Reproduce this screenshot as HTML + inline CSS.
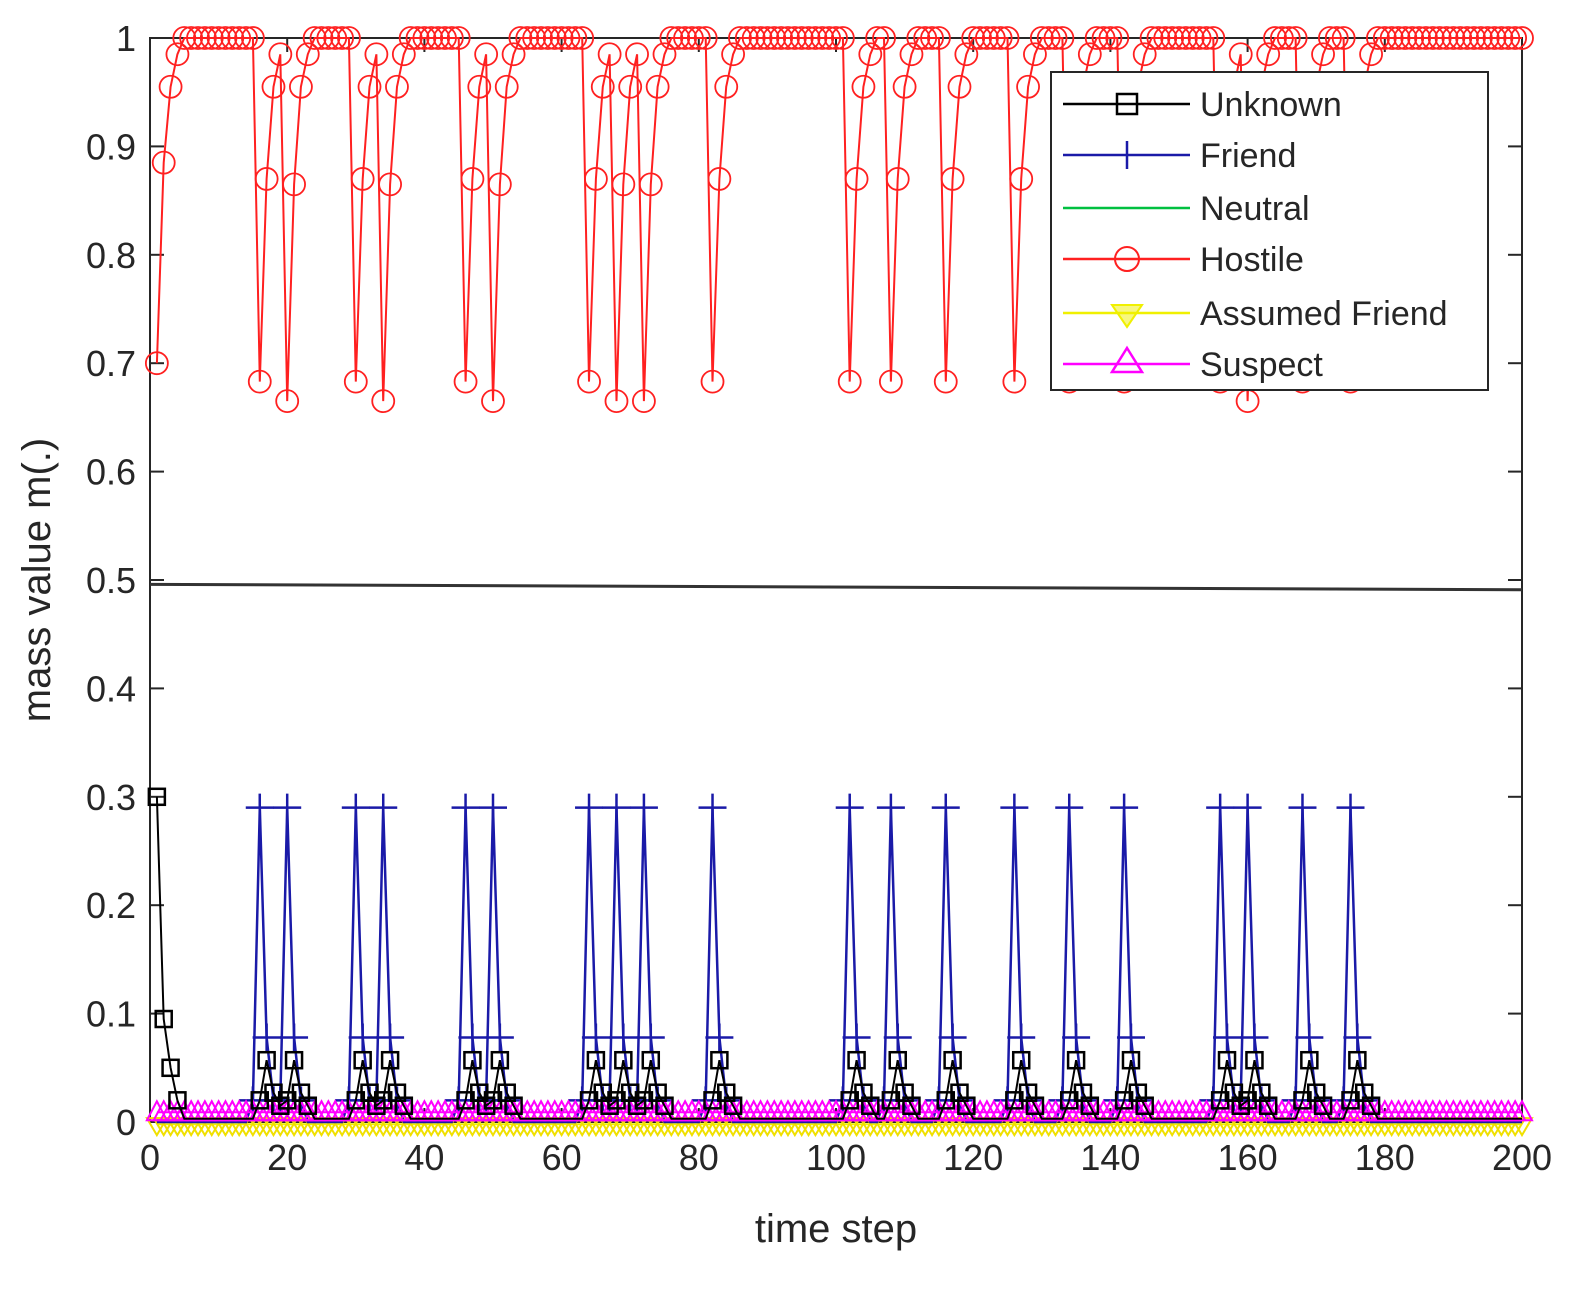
<!DOCTYPE html>
<html><head><meta charset="utf-8"><style>
html,body{margin:0;padding:0;background:#fff;}
svg text{font-family:"Liberation Sans",Arial,sans-serif;fill:#262626;}
</style></head><body>
<svg id="s" width="1586" height="1288" xmlns="http://www.w3.org/2000/svg"></svg>
<script>
const s=document.getElementById('s');
const X0=150,X1=1522,Y0=1122,Y1=38;
const xp=t=>X0+t*(X1-X0)/200, yp=v=>Y0-v*(Y0-Y1);
let h='';
h+=`<rect x="${X0}" y="${Y1}" width="${X1-X0}" height="${Y0-Y1}" fill="#fff" stroke="#262626" stroke-width="2"/>`;
for(let i=0;i<=10;i++){const y=yp(i/10);h+=`<line x1="${X0}" y1="${y}" x2="${X0+14}" y2="${y}" stroke="#262626" stroke-width="2"/><line x1="${X1}" y1="${y}" x2="${X1-14}" y2="${y}" stroke="#262626" stroke-width="2"/>`;
h+=`<text x="${X0-14}" y="${y+13}" font-size="36">${''}</text><text x="${X0-14}" y="${y+13}" font-size="36" text-anchor="end">${i==0?'0':i==10?'1':(i/10).toFixed(1)}</text>`;}
for(let i=0;i<=10;i++){const x=xp(i*20);h+=`<line x1="${x}" y1="${Y0}" x2="${x}" y2="${Y0-14}" stroke="#262626" stroke-width="2"/><line x1="${x}" y1="${Y1}" x2="${x}" y2="${Y1+14}" stroke="#262626" stroke-width="2"/>`;
h+=`<text x="${x}" y="${Y0+48}" font-size="36" text-anchor="middle">${i*20}</text>`;}
h+=`<text x="836" y="1242" font-size="40" text-anchor="middle">time step</text>`;
h+=`<text transform="translate(50,580) rotate(-90)" font-size="40" text-anchor="middle">mass value m(.)</text>`;
const ev=[16,20,30,34,46,50,64,68,72,82,102,108,116,126,134,142,156,160,168,175];
const N=200;let H=[],F=[],U=[],S=[],A=[],Nn=[];
for(let t=1;t<=N;t++){H[t]=1;F[t]=0;U[t]=0.003;S[t]=0.009;A[t]=-0.002;Nn[t]=0.002;}
H[1]=0.7;H[2]=0.885;H[3]=0.955;H[4]=0.985;U[1]=0.3;U[2]=0.095;U[3]=0.05;U[4]=0.02;
let prev=-99;
for(const e of ev){const sec=e-prev<=5;H[e]=sec?0.665:0.683;H[e+1]=sec?0.865:0.87;H[e+2]=0.955;H[e+3]=0.985;
F[e]=0.29;F[e+1]=0.078;F[e+2]=0.02;F[e-1]=Math.max(F[e-1],0.02);
U[e]=0.02;U[e+1]=0.057;U[e+2]=0.027;U[e+3]=0.015;prev=e;}
function line(arr,col,w){let p=[];for(let t=1;t<=N;t++)p.push(xp(t).toFixed(1)+','+yp(arr[t]).toFixed(1));return `<polyline points="${p.join(' ')}" fill="none" stroke="${col}" stroke-width="${w}"/>`;}
function marks(arr,col,type,only){let o='';for(let t=1;t<=N;t++){if(only&&!only(t))continue;const x=xp(t),y=yp(arr[t]);
if(type=='o')o+=`<circle cx="${x}" cy="${y}" r="11" fill="none" stroke="${col}" stroke-width="1.8"/>`;
else if(type=='s')o+=`<rect x="${x-8}" y="${y-8}" width="16" height="16" fill="none" stroke="${col}" stroke-width="2.5"/>`;
else if(type=='+')o+=`<path d="M${x-14} ${y}H${x+14}M${x} ${y-14}V${y+14}" stroke="${col}" stroke-width="2.5"/>`;
else if(type=='^')o+=`<path d="M${x} ${y-11}L${x+10} ${y+8}H${x-10}Z" fill="none" stroke="${col}" stroke-width="2"/>`;
else if(type=='v')o+=`<path d="M${x} ${y+11}L${x+10} ${y-6}H${x-10}Z" fill="none" stroke="${col}" stroke-width="2"/>`;}return o;}
h+=`<line x1="${X0}" y1="${yp(0.496)}" x2="${X1}" y2="${yp(0.491)}" stroke="#333" stroke-width="3"/>`;
h+=line(Nn,'#00c040',2);
h+=line(A,'#f0f000',2)+marks(A,'#f0e000','v');
h+=line(H,'#ff2020',2)+marks(H,'#ff2020','o');
h+=line(F,'#1a1aa8',2.5)+marks(F,'#1a1aa8','+',t=>F[t]>0.01);
h+=line(S,'#ff00ff',2)+marks(S,'#ff00ff','^');
h+=line(U,'#000',2)+marks(U,'#000','s',t=>U[t]>0.01);
h+=`<rect x="1051" y="72" width="437" height="318" fill="#fff" stroke="#262626" stroke-width="2"/>`;
const L=[['Unknown','#000','s'],['Friend','#1a1aa8','+'],['Neutral','#00c040',''],['Hostile','#ff2020','o'],['Assumed Friend','#f0f000','v'],['Suspect','#ff00ff','^']];
const ly=[104,155,208,259,313,364];
L.forEach((l,i)=>{const y=ly[i];h+=`<line x1="1063" y1="${y}" x2="1190" y2="${y}" stroke="${l[1]}" stroke-width="2.5"/>`;
let m='';if(l[2]){const x=1127;
if(l[2]=='o')m=`<circle cx="${x}" cy="${y}" r="12" fill="none" stroke="${l[1]}" stroke-width="2"/>`;
if(l[2]=='s')m=`<rect x="${x-10}" y="${y-10}" width="20" height="20" fill="none" stroke="${l[1]}" stroke-width="2.5"/>`;
if(l[2]=='+')m=`<path d="M${x} ${y-14}V${y+14}" stroke="${l[1]}" stroke-width="2.5"/>`;
if(l[2]=='v')m=`<path d="M${x} ${y+14}L${x+15} ${y-8}H${x-15}Z" fill="#f0f000" fill-opacity="0.5" stroke="${l[1]}" stroke-width="2"/>`;
if(l[2]=='^')m=`<path d="M${x} ${y-16}L${x+15} ${y+8}H${x-15}Z" fill="none" stroke="${l[1]}" stroke-width="2.5"/>`;}
h+=m+`<text x="1200" y="${y+12}" font-size="34">${l[0]}</text>`;});
s.innerHTML=h;
</script>
</body></html>
